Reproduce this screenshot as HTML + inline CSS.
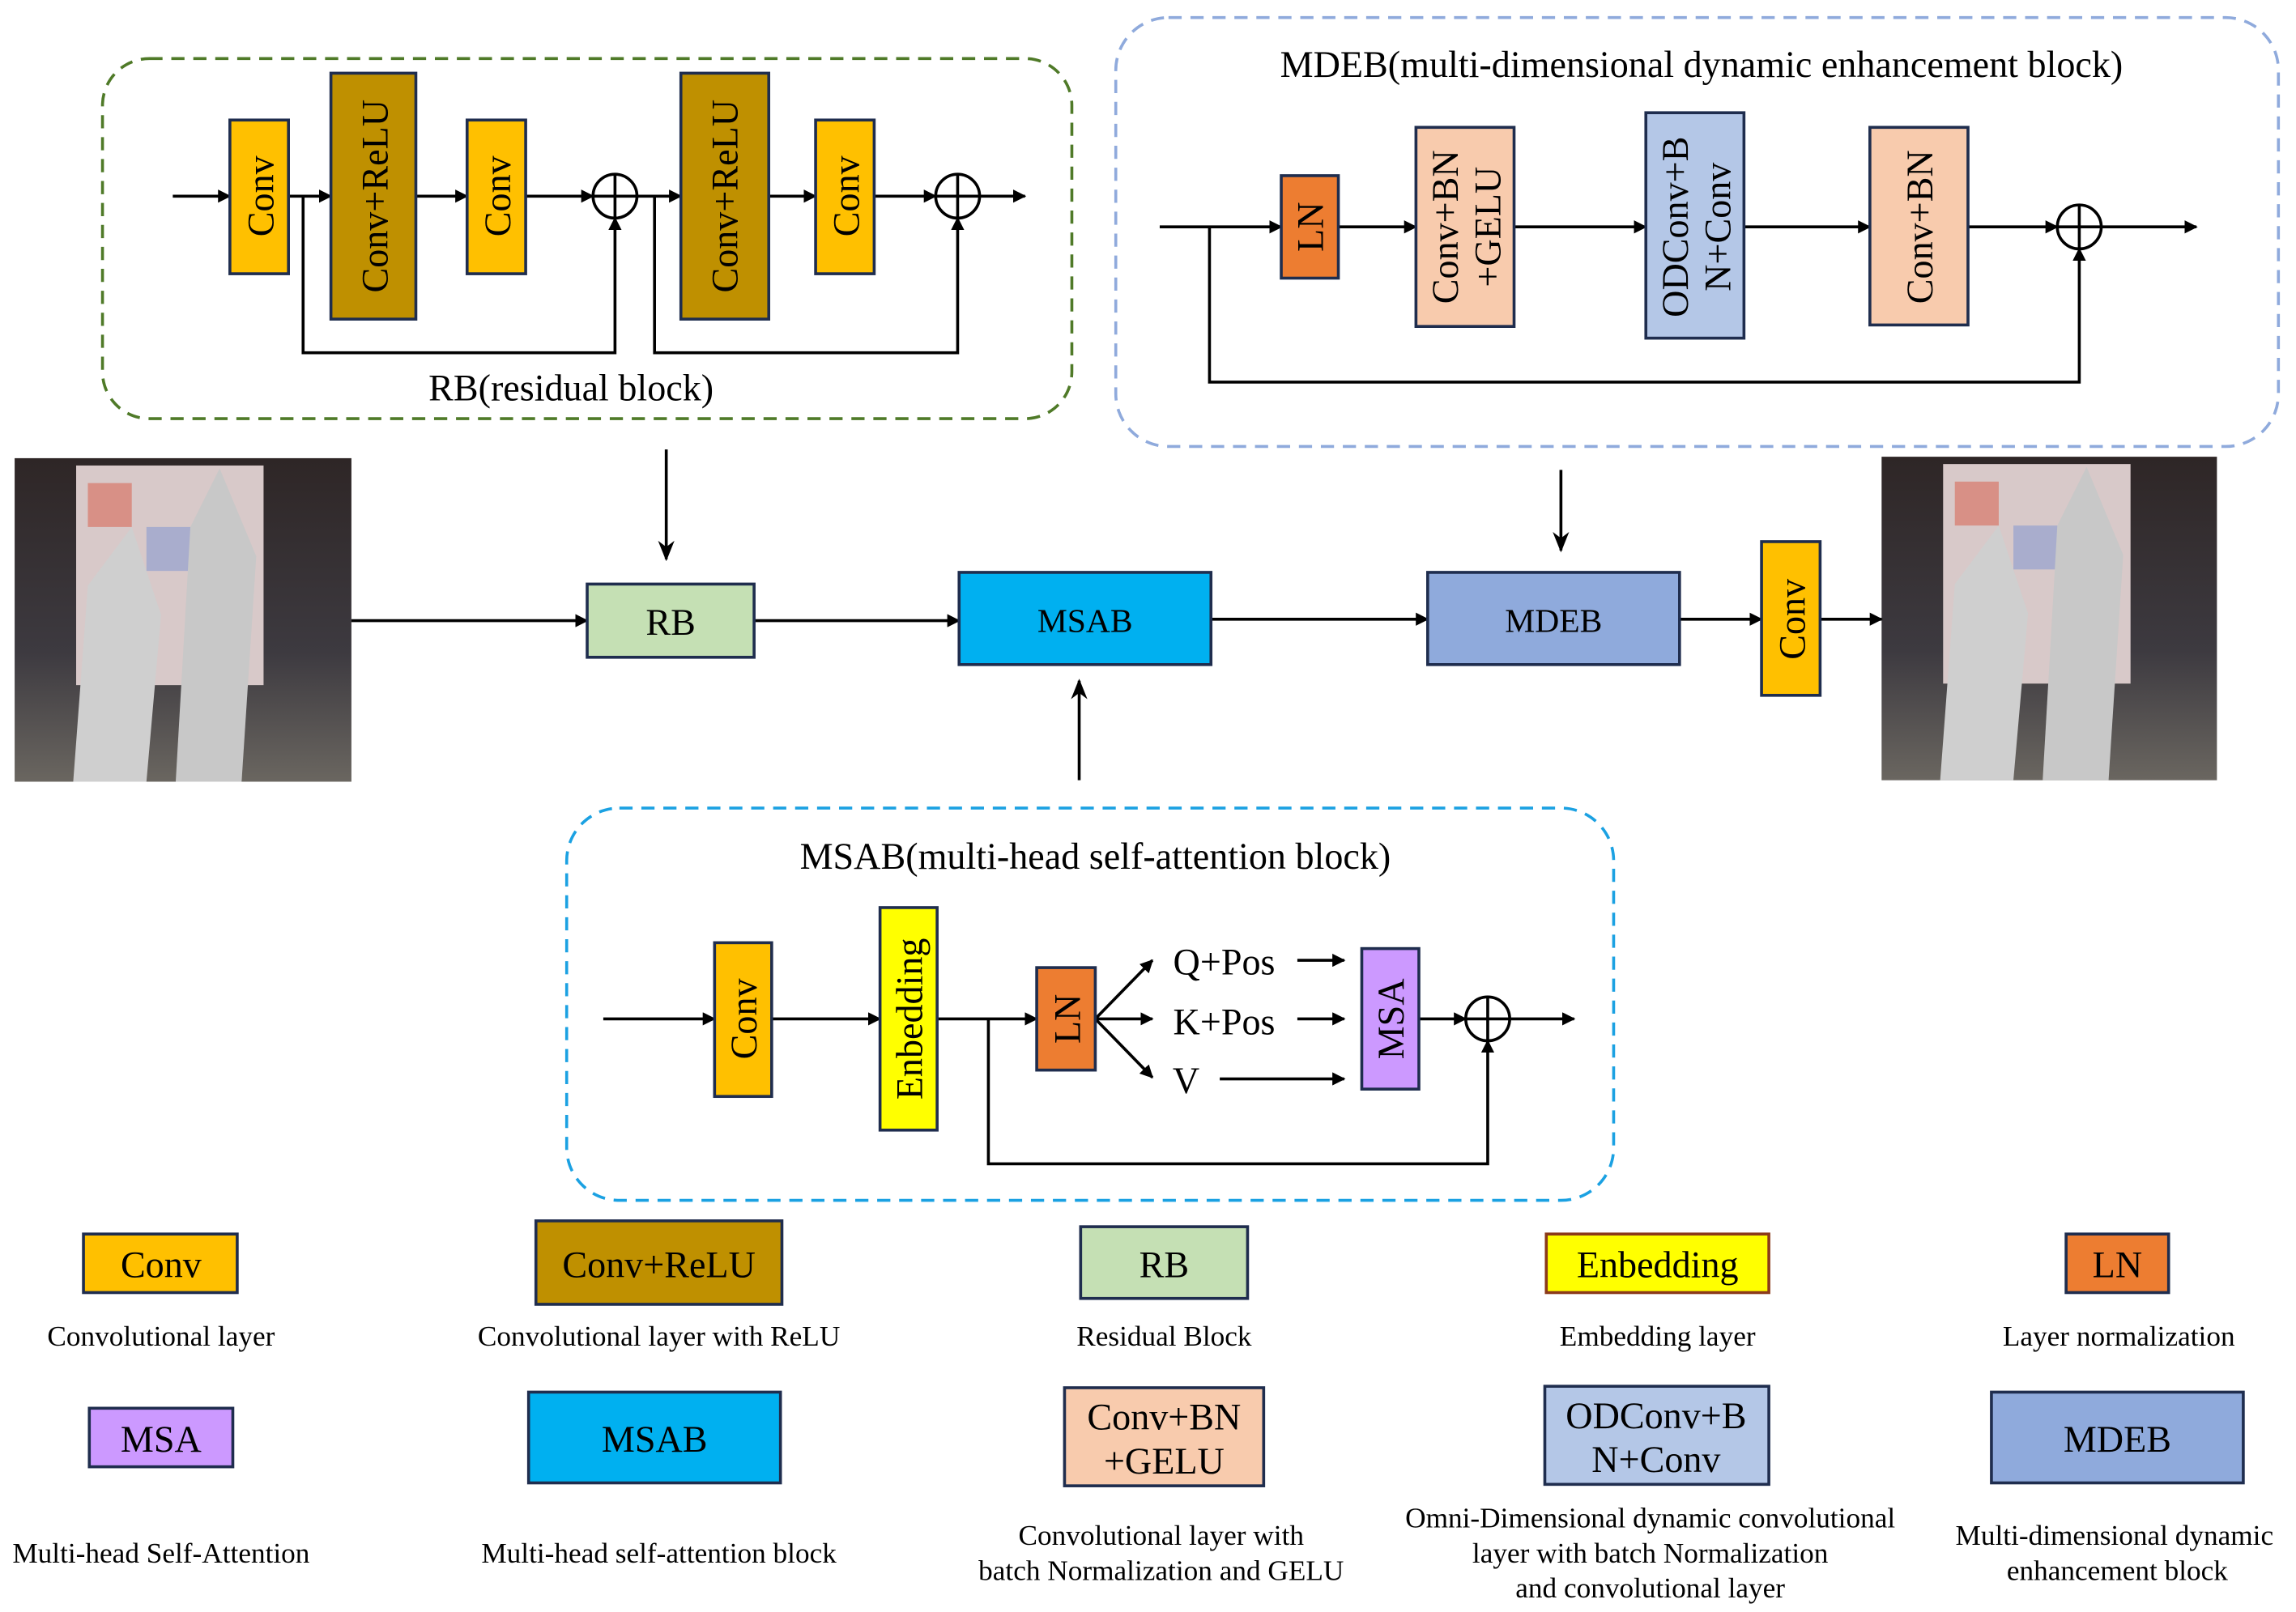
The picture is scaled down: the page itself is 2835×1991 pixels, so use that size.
<!DOCTYPE html>
<html><head><meta charset="utf-8"><style>
html,body{margin:0;padding:0;background:#fff}
svg{display:block}
text{font-family:"Liberation Serif",serif;fill:#000}
</style></head><body>
<svg width="2835" height="1991" viewBox="0 0 1568 1101.2" preserveAspectRatio="none" xmlns="http://www.w3.org/2000/svg">
<defs>
<marker id="a" viewBox="0 0 10 10" refX="9" refY="5" markerWidth="9" markerHeight="9" markerUnits="userSpaceOnUse" orient="auto"><path d="M0,0L10,5L0,10z" fill="#000"/></marker>
<marker id="b" viewBox="0 0 10 10" refX="9" refY="5" markerWidth="14" markerHeight="14" markerUnits="userSpaceOnUse" orient="auto"><path d="M0,1L10,5L0,9L3,5z" fill="#000"/></marker>
<linearGradient id="ph" x1="0" y1="0" x2="0" y2="1"><stop offset="0" stop-color="#2e2626"/><stop offset="0.6" stop-color="#3d3a40"/><stop offset="1" stop-color="#6a6660"/></linearGradient>
</defs>
<g stroke="#000" stroke-width="2" fill="none">
<rect x="70" y="40" width="662" height="246" rx="32" stroke="#4f7a28" stroke-dasharray="9,6"/>
<rect x="762" y="12" width="794" height="293" rx="36" stroke="#8faadc" stroke-dasharray="9,6"/>
<rect x="387" y="552" width="715" height="268" rx="36" stroke="#1ba1e2" stroke-dasharray="9,6"/>
</g>
<g>
<rect x="10" y="313" width="230" height="221" fill="url(#ph)"/>
<rect x="52" y="318" width="128" height="150" fill="#d8c9c9"/>
<rect x="60" y="330" width="30" height="30" fill="#d96a5a" opacity="0.6"/><rect x="100" y="360" width="40" height="30" fill="#8a9bd0" opacity="0.6"/>
<path d="M50,534 L60,400 L90,360 L110,420 L100,534z" fill="#cfcfcf"/><path d="M120,534 L130,360 L150,320 L175,380 L165,534z" fill="#c8c8c8"/>
<rect x="1285" y="312" width="229" height="221" fill="url(#ph)"/>
<rect x="1327" y="317" width="128" height="150" fill="#d8c9c9"/>
<rect x="1335" y="329" width="30" height="30" fill="#d96a5a" opacity="0.6"/><rect x="1375" y="359" width="40" height="30" fill="#8a9bd0" opacity="0.6"/>
<path d="M1325,533 L1335,399 L1365,359 L1385,419 L1375,533z" fill="#cfcfcf"/><path d="M1395,533 L1405,359 L1425,319 L1450,379 L1440,533z" fill="#c8c8c8"/>
</g>
<g stroke="#000" stroke-width="2" fill="none">
<path d="M118,134H157" marker-end="url(#a)"/>
<path d="M197,134H226" marker-end="url(#a)"/>
<path d="M284,134H319" marker-end="url(#a)"/>
<path d="M359,134H405" marker-end="url(#a)"/>
<path d="M435,134H465" marker-end="url(#a)"/>
<path d="M525,134H557" marker-end="url(#a)"/>
<path d="M597,134H639" marker-end="url(#a)"/>
<path d="M669,134H700" marker-end="url(#a)"/>
<path d="M207,134V241H420V149" marker-end="url(#a)"/>
<path d="M447,134V241H654V149" marker-end="url(#a)"/>
<circle cx="420" cy="134" r="15"/><path d="M405,134H435M420,119V149"/>
<circle cx="654" cy="134" r="15"/><path d="M639,134H669M654,119V149"/>
<path d="M792,155H875" marker-end="url(#a)"/>
<path d="M914,155H967" marker-end="url(#a)"/>
<path d="M1034,155H1124" marker-end="url(#a)"/>
<path d="M1191,155H1277" marker-end="url(#a)"/>
<path d="M1344,155H1405" marker-end="url(#a)"/>
<path d="M1435,155H1500" marker-end="url(#a)"/>
<path d="M826,155V261H1420V170" marker-end="url(#a)"/>
<circle cx="1420" cy="155" r="15"/><path d="M1405,155H1435M1420,140V170"/>
<path d="M240,424H401" marker-end="url(#a)"/>
<path d="M515,424H655" marker-end="url(#a)"/>
<path d="M827,423H975" marker-end="url(#a)"/>
<path d="M1147,423H1203" marker-end="url(#a)"/>
<path d="M1243,423H1285" marker-end="url(#a)"/>
<path d="M455,307V382" marker-end="url(#b)"/>
<path d="M1066,321V376" marker-end="url(#b)"/>
<path d="M737,533V465" marker-end="url(#b)"/>
<path d="M412,696H488" marker-end="url(#a)"/>
<path d="M527,696H601" marker-end="url(#a)"/>
<path d="M640,696H708" marker-end="url(#a)"/>
<path d="M748,696L787,656" marker-end="url(#a)"/>
<path d="M748,696H787" marker-end="url(#a)"/>
<path d="M748,696L787,736" marker-end="url(#a)"/>
<path d="M886,656H918" marker-end="url(#a)"/>
<path d="M886,696H918" marker-end="url(#a)"/>
<path d="M833,737H918" marker-end="url(#a)"/>
<path d="M969,696H1001" marker-end="url(#a)"/>
<path d="M1031,696H1075" marker-end="url(#a)"/>
<path d="M675,696V795H1016V711" marker-end="url(#a)"/>
<circle cx="1016" cy="696" r="15"/><path d="M1001,696H1031M1016,681V711"/>
</g>
<g stroke="#1f2d4e" stroke-width="2">
<rect x="157" y="82" width="40" height="105" fill="#FFC000"/>
<rect x="226" y="50" width="58" height="168" fill="#BF9000"/>
<rect x="319" y="82" width="40" height="105" fill="#FFC000"/>
<rect x="465" y="50" width="60" height="168" fill="#BF9000"/>
<rect x="557" y="82" width="40" height="105" fill="#FFC000"/>
<rect x="875" y="120" width="39" height="70" fill="#ED7D31"/>
<rect x="967" y="87" width="67" height="136" fill="#F8CBAD"/>
<rect x="1124" y="77" width="67" height="154" fill="#B4C7E7"/>
<rect x="1277" y="87" width="67" height="135" fill="#F8CBAD"/>
<rect x="401" y="399" width="114" height="50" fill="#C5E0B4"/>
<rect x="655" y="391" width="172" height="63" fill="#00B0F0"/>
<rect x="975" y="391" width="172" height="63" fill="#8FAADC"/>
<rect x="1203" y="370" width="40" height="105" fill="#FFC000"/>
<rect x="488" y="644" width="39" height="105" fill="#FFC000"/>
<rect x="601" y="620" width="39" height="152" fill="#FFFF00"/>
<rect x="708" y="661" width="40" height="70" fill="#ED7D31"/>
<rect x="930" y="648" width="39" height="96" fill="#CC99FF"/>
<rect x="57" y="843" width="105" height="40" fill="#FFC000"/>
<rect x="366" y="834" width="168" height="57" fill="#BF9000"/>
<rect x="738" y="838" width="114" height="49" fill="#C5E0B4"/>
<rect x="1056" y="843" width="152" height="40" fill="#FFFF00" stroke="#8b3a1a"/>
<rect x="1411" y="843" width="70" height="40" fill="#ED7D31"/>
<rect x="61" y="962" width="98" height="40" fill="#CC99FF"/>
<rect x="361" y="951" width="172" height="62" fill="#00B0F0"/>
<rect x="727" y="948" width="136" height="67" fill="#F8CBAD"/>
<rect x="1055" y="947" width="153" height="67" fill="#B4C7E7"/>
<rect x="1360" y="951" width="172" height="62" fill="#8FAADC"/>
</g>
<g font-size="25.5" text-anchor="middle" dominant-baseline="central">
<text transform="translate(178,134) rotate(-90)">Conv</text>
<text transform="translate(256,134) rotate(-90)">Conv+ReLU</text>
<text transform="translate(340,134) rotate(-90)">Conv</text>
<text transform="translate(495,134) rotate(-90)">Conv+ReLU</text>
<text transform="translate(578,134) rotate(-90)">Conv</text>
<text transform="translate(895,155) rotate(-90)">LN</text>
<text transform="translate(987,155) rotate(-90)">Conv+BN</text>
<text transform="translate(1016,155) rotate(-90)">+GELU</text>
<text transform="translate(1144,155) rotate(-90)">ODConv+B</text>
<text transform="translate(1173,155) rotate(-90)">N+Conv</text>
<text transform="translate(1311,155) rotate(-90)">Conv+BN</text>
<text transform="translate(1224,423) rotate(-90)">Conv</text>
<text transform="translate(508,696) rotate(-90)">Conv</text>
<text transform="translate(621,696) rotate(-90)">Enbedding</text>
<text transform="translate(729,696) rotate(-90)">LN</text>
<text transform="translate(950,696) rotate(-90)">MSA</text>
</g>
<g font-size="25.5" text-anchor="middle" dominant-baseline="central">
<text x="390" y="265">RB(residual block)</text>
<text x="1162" y="44">MDEB(multi-dimensional dynamic enhancement block)</text>
<text x="748" y="585">MSAB(multi-head self-attention block)</text>
<text x="458" y="425">RB</text>
<text x="741" y="424" font-family="Liberation Sans,sans-serif" font-size="23">MSAB</text>
<text x="1061" y="424" font-family="Liberation Sans,sans-serif" font-size="23">MDEB</text>
<text x="836" y="657">Q+Pos</text>
<text x="836" y="698">K+Pos</text>
<text x="810" y="738">V</text>
<text x="110" y="864">Conv</text>
<text x="450" y="864">Conv+ReLU</text>
<text x="795" y="864">RB</text>
<text x="1132" y="864">Enbedding</text>
<text x="1446" y="864">LN</text>
<text x="110" y="983">MSA</text>
<text x="447" y="983">MSAB</text>
<text x="795" y="968">Conv+BN</text>
<text x="795" y="998">+GELU</text>
<text x="1131" y="967">ODConv+B</text>
<text x="1131" y="997">N+Conv</text>
<text x="1446" y="983">MDEB</text>
</g>
<g font-size="19.5" text-anchor="middle" dominant-baseline="central">
<text x="110" y="913">Convolutional layer</text>
<text x="450" y="913">Convolutional layer with ReLU</text>
<text x="795" y="913">Residual Block</text>
<text x="1132" y="913">Embedding layer</text>
<text x="1447" y="913">Layer normalization</text>
<text x="110" y="1061">Multi-head Self-Attention</text>
<text x="450" y="1061">Multi-head self-attention block</text>
<text x="793" y="1049">Convolutional layer with</text>
<text x="793" y="1073">batch Normalization and GELU</text>
<text x="1127" y="1037">Omni-Dimensional dynamic convolutional</text>
<text x="1127" y="1061">layer with batch Normalization</text>
<text x="1127" y="1085">and convolutional layer</text>
<text x="1444" y="1049">Multi-dimensional dynamic</text>
<text x="1446" y="1073">enhancement block</text>
</g>
</svg>
</body></html>
